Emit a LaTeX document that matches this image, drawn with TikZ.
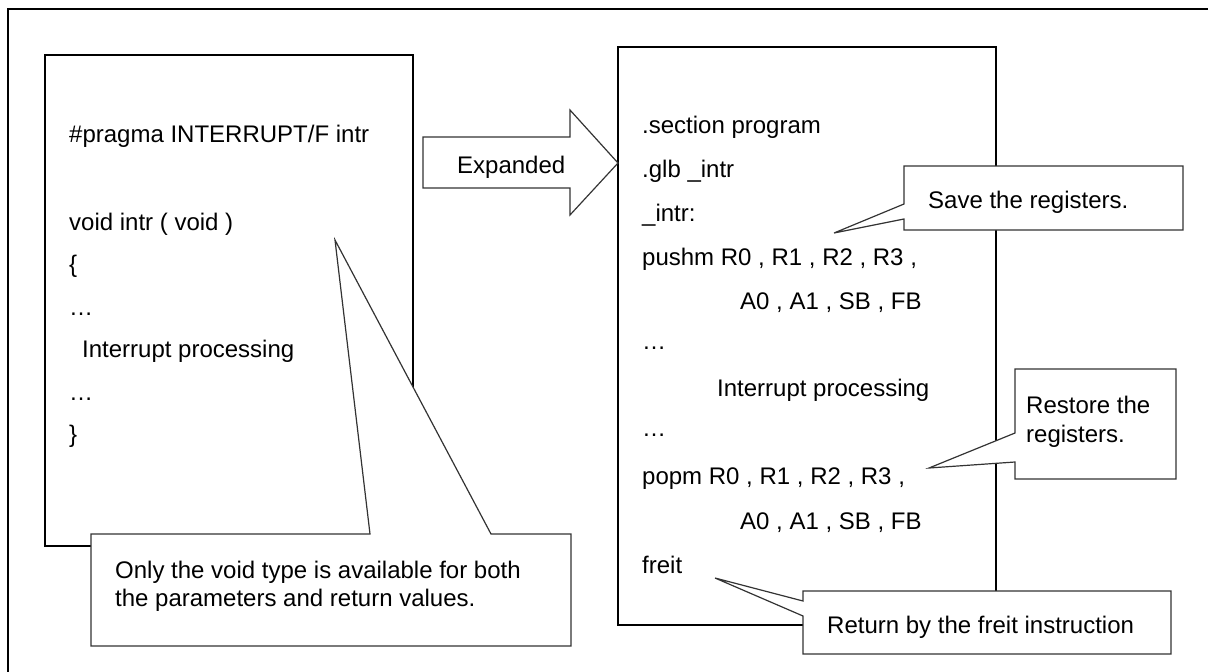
\documentclass[tikz,border=0pt]{standalone}
\usepackage{fontspec}
\setmainfont{Liberation Sans}
\begin{document}
\begin{tikzpicture}[x=1pt,y=-1pt,
  boxline/.style={draw=black,line width=1.6pt},
  callout/.style={draw=black!80,fill=white,line width=1.2pt,line join=miter},
  bigarrow/.style={draw=black!80,fill=white,line width=1.2pt,line join=miter},
  txt/.style={anchor=base west,inner sep=0pt,font=\fontsize{24}{28}\selectfont}]
\useasboundingbox (0,0) rectangle (1208,672);
% outer frame (right and bottom edges lie outside the picture)
\draw[line width=2.2pt] (8,690) -- (8,9) -- (1230,9);
% source box
\draw[boxline] (45,55) rectangle (413,546);
% expanded box
\draw[boxline] (618,47) rectangle (996,625);
% expand arrow
\draw[bigarrow] (423,137) -- (570,137) -- (570,110) -- (618,163) -- (570,215) -- (570,188) -- (423,188) -- cycle;
\node[txt] (exp) at (457,173) {Expanded};
% left code
\node[txt] (l1) at (69,142) {\#pragma INTERRUPT/F intr};
\node[txt] (l2) at (69,230) {void intr ( void )};
\node[txt] (l3) at (69,272.5) {\{};
\node[txt] (l4) at (69,315) {…};
\node[txt] (l5) at (82,357.5) {Interrupt processing};
\node[txt] (l6) at (69,400) {…};
\node[txt] (l7) at (69,442.5) {\}};
% right code
\node[txt] (r1) at (642,133) {.section program};
\node[txt] (r2) at (642,177) {.glb \_intr};
\node[txt] (r3) at (642,221) {\_intr:};
\node[txt] (r4) at (642,265) {pushm R0 , R1 , R2 , R3 ,};
\node[txt] (r5) at (740,309) {A0 , A1 , SB , FB};
\node[txt] (r6) at (642,349) {…};
\node[txt] (r7) at (717,396) {Interrupt processing};
\node[txt] (r8) at (642,436) {…};
\node[txt] (r9) at (642,484) {popm R0 , R1 , R2 , R3 ,};
\node[txt] (r10) at (740,529) {A0 , A1 , SB , FB};
\node[txt] (r11) at (642,573) {freit};
% callouts
\draw[callout] (904,166) -- (1183,166) -- (1183,230) -- (904,230) -- (904,219) -- (834,233) -- (904,204) -- cycle;
\node[txt] (save) at (928,208) {Save the registers.};
\draw[callout] (1015,369) -- (1176,369) -- (1176,479) -- (1015,479) -- (1015,462) -- (929,468) -- (1015,433) -- cycle;
\node[txt] (rest1) at (1026,413) {Restore the};
\node[txt] (rest2) at (1026,442) {registers.};
\draw[callout] (803,591) -- (1171,591) -- (1171,654) -- (803,654) -- (803,616) -- (715,578) -- (803,601) -- cycle;
\node[txt] (ret) at (827,633) {Return by the freit instruction};
\draw[callout] (91,534) -- (370,534) -- (335,240) -- (491,534) -- (571,534) -- (571,646) -- (91,646) -- cycle;
\node[txt] (only1) at (115,578) {Only the void type is available for both};
\node[txt] (only2) at (115,606) {the parameters and return values.};
\end{tikzpicture}
\end{document}
